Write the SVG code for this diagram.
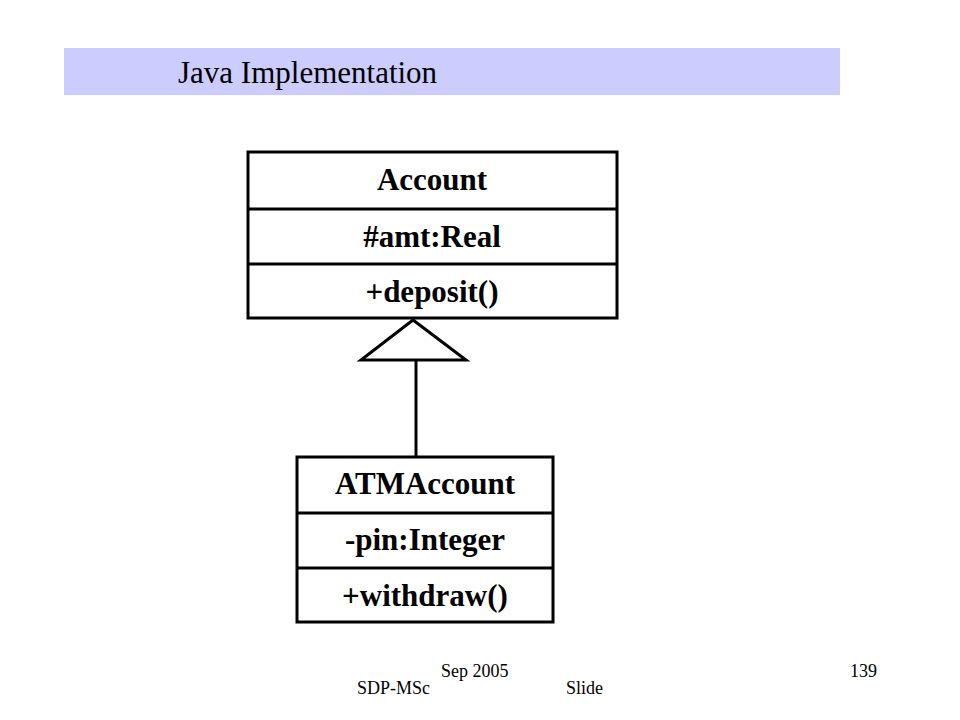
<svg xmlns="http://www.w3.org/2000/svg" width="960" height="720" viewBox="0 0 960 720">
<style>
.box{fill:#ffffff;stroke:#000000;stroke-width:3}
.div{stroke:#000000;stroke-width:3}
.cls{font-family:"Liberation Serif","Times New Roman",serif;font-weight:bold;font-size:31px;fill:#000000;text-anchor:middle}
.foot{font-family:"Liberation Serif","Times New Roman",serif;font-size:18px;fill:#000000}
.edge{fill:none;stroke:#000000;stroke-width:3}
</style>
<rect x="0" y="0" width="960" height="720" fill="#ffffff"/>
<g id="banner">
<rect x="64" y="48" width="776" height="47" fill="#ccccff"/>
<text x="178" y="83" font-family="Liberation Serif, Times New Roman, serif" font-size="31" fill="#000000">Java Implementation</text>
</g>
<g id="connectors">
<line class="edge" x1="416" y1="360" x2="416" y2="457"/>
<polygon class="edge" points="413,320 361,360 466,360" fill="#ffffff" style="fill:#ffffff"/>
</g>
<g id="account">
<rect class="box" x="248" y="152" width="369" height="166"/>
<line class="div" x1="248" y1="209" x2="617" y2="209"/>
<line class="div" x1="248" y1="264" x2="617" y2="264"/>
<text class="cls" x="432" y="190">Account</text>
<text class="cls" x="432" y="247">#amt:Real</text>
<text class="cls" x="432" y="302">+deposit()</text>
</g>
<g id="atmaccount">
<rect class="box" x="297" y="457" width="256" height="165"/>
<line class="div" x1="297" y1="513" x2="553" y2="513"/>
<line class="div" x1="297" y1="568" x2="553" y2="568"/>
<text class="cls" x="425" y="494">ATMAccount</text>
<text class="cls" x="425" y="550">-pin:Integer</text>
<text class="cls" x="425" y="606">+withdraw()</text>
</g>
<g id="footer">
<text class="foot" x="441" y="677">Sep 2005</text>
<text class="foot" x="850" y="677">139</text>
<text class="foot" x="357" y="694">SDP-MSc</text>
<text class="foot" x="566" y="694">Slide</text>
</g>
</svg>
